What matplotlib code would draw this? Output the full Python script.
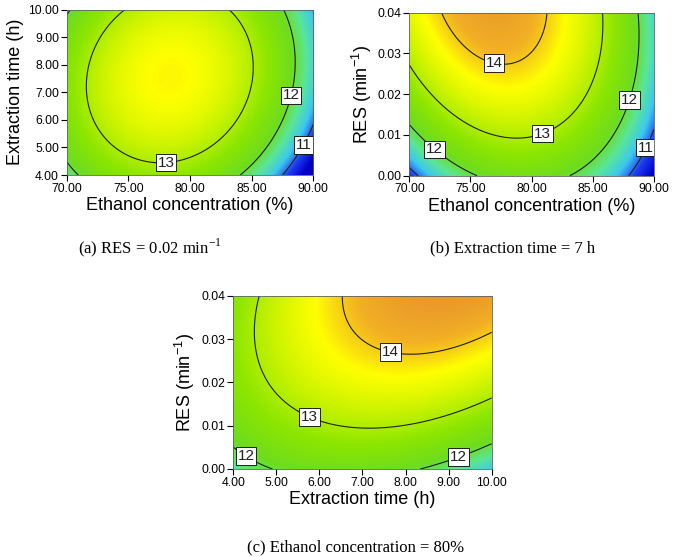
import numpy as np
import matplotlib
matplotlib.use("Agg")
import matplotlib.pyplot as plt
from matplotlib.colors import LinearSegmentedColormap, Normalize

plt.rcParams["font.family"] = ["Liberation Sans", "DejaVu Sans"]

# contour readings: (x, y, level) for each panel
# (a) ethanol concentration (%) vs extraction time (h), RES = 0.02
a_eth = [74.7, 83.1, 71.57, 85.05, 77.6, 72.3, 84.2,
         87.6, 88.6, 88.1, 84.05, 70.0, 70.95, 86.2,
         87.6, 90.0, 88.85]
a_time = [10.0, 10.0, 7.33, 8.05, 4.51, 6.0, 6.0,
          10.0, 8.05, 6.9, 4.0, 4.43, 4.0, 5.0,
          4.0, 5.82, 4.91]
a_level = [13, 13, 13, 13, 13, 13, 13,
           12, 12, 12, 12, 12, 12, 12,
           11, 11, 11]

# (b) ethanol concentration (%) vs RES (min-1), time = 7 h
b_eth = [73.05, 81.2, 77.8, 75.1, 80.5,
         70.0, 78.6, 85.8, 71.97, 80.7, 84.6,
         88.7, 87.8, 83.1, 85.8,
         70.0, 72.3, 75.1,
         88.0, 90.0, 70.0, 70.6]
b_res = [0.04, 0.04, 0.0262, 0.03, 0.03,
         0.0268, 0.0086, 0.04, 0.01865, 0.0119, 0.020,
         0.04, 0.0187, 0.0, 0.0064,
         0.0121, 0.0076, 0.0,
         0.0, 0.0109, 0.0022, 0.0]
b_level = [14, 14, 14, 14, 14,
           13, 13, 13, 13, 13, 13,
           12, 12, 12, 12,
           12, 12, 12,
           11, 11, 11, 11]

# (c) extraction time (h) vs RES (min-1), ethanol = 80 %
c_time = [6.55, 8.03, 10.0, 6.63, 7.02, 8.96,
          4.62, 4.46, 5.82, 7.13, 10.0, 4.62, 5.08, 8.18,
          4.0, 4.89, 8.37, 10.0]
c_res = [0.04, 0.0259, 0.0319, 0.0344, 0.0298, 0.0271,
         0.04, 0.0313, 0.0132, 0.009, 0.01646, 0.0229, 0.0167, 0.01055,
         0.0049, 0.0, 0.0, 0.0059]
c_level = [14, 14, 14, 14, 14, 14,
           13, 13, 13, 13, 13, 13, 13, 13,
           12, 12, 12, 12]

levels = [11, 12, 13, 14]

cmap = LinearSegmentedColormap.from_list("rsm", [
    (0.00, "#0000c8"),
    (0.10, "#1e3cf0"),
    (0.19, "#3cc8f0"),
    (0.28, "#5ae696"),
    (0.37, "#6edc1e"),
    (0.50, "#8ce600"),
    (0.64, "#d2f500"),
    (0.73, "#ffff00"),
    (0.81, "#f2b024"),
    (0.89, "#e8922c"),
    (1.00, "#dc6428"),
])
norm = Normalize(10.4, 15.0)


def fit_surface(x, y, z, xr, yr):
    x = np.asarray(x); y = np.asarray(y); z = np.asarray(z, float)
    cx, sx = np.mean(xr), (xr[1] - xr[0]) / 2
    cy, sy = np.mean(yr), (yr[1] - yr[0]) / 2
    u, v = (x - cx) / sx, (y - cy) / sy
    M = np.column_stack([np.ones_like(u), u, v, u * v, u ** 2, v ** 2])
    coef = np.linalg.lstsq(M, z, rcond=None)[0]
    gx = np.linspace(xr[0], xr[1], 300)
    gy = np.linspace(yr[0], yr[1], 300)
    X, Y = np.meshgrid(gx, gy)
    U, V = (X - cx) / sx, (Y - cy) / sy
    Z = coef[0] + coef[1] * U + coef[2] * V + coef[3] * U * V + coef[4] * U ** 2 + coef[5] * V ** 2
    return X, Y, Z


def panel(ax, x, y, z, xr, yr, label_pos, xticks, yticks, xlabel, ylabel):
    X, Y, Z = fit_surface(x, y, z, xr, yr)
    ax.imshow(Z, extent=[xr[0], xr[1], yr[0], yr[1]], origin="lower",
              aspect="auto", cmap=cmap, norm=norm, interpolation="bilinear")
    cs = ax.contour(X, Y, Z, levels=levels, colors="#202020", linewidths=0.8)
    lbls = ax.clabel(cs, fmt="%d", manual=label_pos, inline=False, fontsize=11)
    for t in lbls:
        t.set_rotation(0)
        t.set_bbox(dict(facecolor="white", edgecolor="black", linewidth=0.6, pad=1.3))
        t.set_zorder(5)
    ax.set_xlim(xr)
    ax.set_ylim(yr)
    ax.set_xticks(xticks)
    ax.set_yticks(yticks)
    ax.xaxis.set_major_formatter(matplotlib.ticker.FormatStrFormatter("%.2f"))
    ax.yaxis.set_major_formatter(matplotlib.ticker.FormatStrFormatter("%.2f"))
    ax.tick_params(direction="out", length=4, width=0.8, labelsize=8.7, pad=1.5,
                   top=False, right=False)
    for s in ax.spines.values():
        s.set_color("#606060")
        s.set_linewidth(0.6)
    ax.set_xlabel(xlabel, fontsize=13, labelpad=2)
    ax.set_ylabel(ylabel, fontsize=13, labelpad=3)


fig = plt.figure(figsize=(6.75, 5.57), dpi=100)

ax_a = fig.add_axes([0.0988, 0.6858, 0.3653, 0.2971])
panel(ax_a, a_eth, a_time, a_level, (70, 90), (4, 10),
      [(78.0, 4.85), (88.05, 6.9), (88.9, 5.17)],
      [70, 75, 80, 85, 90], [4, 5, 6, 7, 8, 9, 10],
      "Ethanol concentration (%)", "Extraction time (h)")

ax_b = fig.add_axes([0.6064, 0.6846, 0.3625, 0.2926])
panel(ax_b, b_eth, b_res, b_level, (70, 90), (0, 0.04),
      [(77.0, 0.0285), (80.7, 0.0119), (87.8, 0.0187), (72.4, 0.0076), (89.0, 0.0074)],
      [70, 75, 80, 85, 90], [0, 0.01, 0.02, 0.03, 0.04],
      "Ethanol concentration (%)", r"RES (min$^{\mathregular{-1}}$)")

ax_c = fig.add_axes([0.3456, 0.158, 0.3828, 0.3111])
panel(ax_c, c_time, c_res, c_level, (4, 10), (0, 0.04),
      [(7.68, 0.0282), (5.82, 0.0132), (4.39, 0.0044), (9.17, 0.0046)],
      [4, 5, 6, 7, 8, 9, 10], [0, 0.01, 0.02, 0.03, 0.04],
      "Extraction time (h)", r"RES (min$^{\mathregular{-1}}$)")

cap = dict(ha="center", va="center", fontsize=12, family=["Liberation Serif", "DejaVu Serif"])
fig.text(150 / 675, 1 - 248 / 557, r"(a) RES = 0.02 min$^{\mathregular{-1}}$", **cap)
fig.text(513 / 675, 1 - 248 / 557, "(b) Extraction time = 7 h", **cap)
fig.text(356 / 675, 1 - 547 / 557, "(c) Ethanol concentration = 80%", **cap)

fig.savefig("out.png", dpi=100)
